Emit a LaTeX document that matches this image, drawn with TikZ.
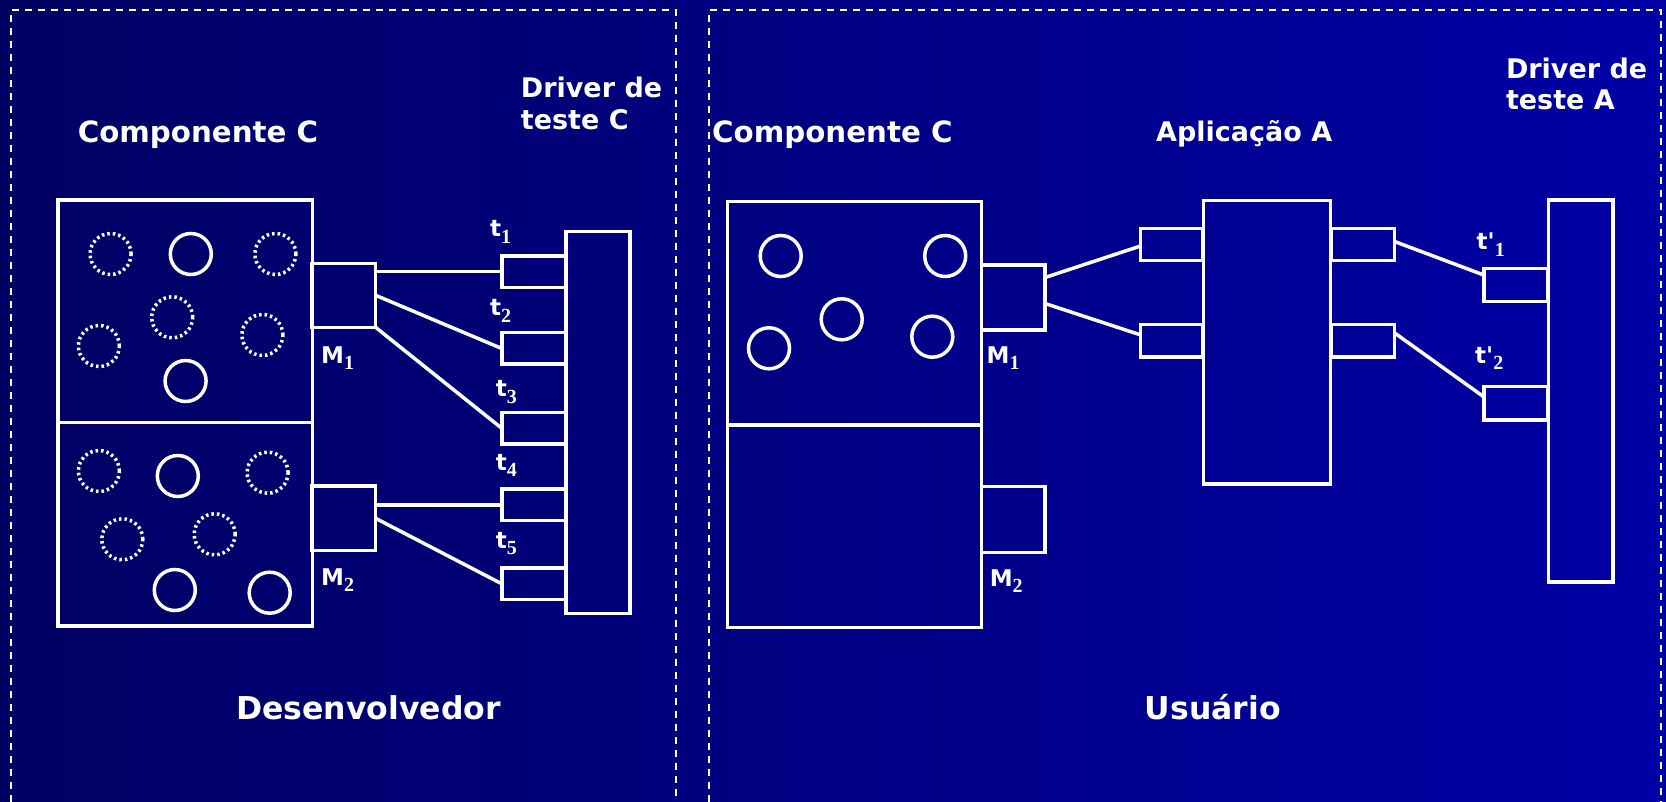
\documentclass[tikz,border=0pt]{standalone}
\usepackage{fontspec}
\setmainfont{DejaVu Sans}
\newfontfamily\subfont{Liberation Serif}
\newfontfamily\nomapfont{DejaVu Sans}
\usetikzlibrary{calc}
\definecolor{bgL}{RGB}{0,0,98}
\definecolor{bgR}{RGB}{0,0,165}
\newcommand\sbs[1]{\raisebox{-6.5pt}{\subfont\fontsize{20}{20}\selectfont #1}}
\newcommand\apos{{\nomapfont\bfseries '}}
\begin{document}
\begin{tikzpicture}[x=1pt,y=-1pt,
  box/.style={draw=white, line width=3.5pt, rectangle, inner sep=0pt, outer sep=0pt},
  frame/.style={draw=white, line width=2.2pt, dash pattern=on 7pt off 6pt},
  solidc/.style={draw=white, line width=3.5pt},
  dotc/.style={draw=white, line width=3.5pt, dash pattern=on 2.5pt off 3pt},
  conn/.style={draw=white, line width=3.5pt},
  ttl/.style={text=white, font=\fontsize{29.3}{33}\selectfont\bfseries, inner sep=0pt, anchor=base west},
  drv/.style={text=white, font=\fontsize{27}{32}\selectfont\bfseries, inner sep=0pt, anchor=base west},
  role/.style={text=white, font=\fontsize{31.5}{36}\selectfont\bfseries, inner sep=0pt, anchor=base west},
  tl/.style={text=white, font=\fontsize{23}{26}\selectfont\bfseries, inner sep=0pt, anchor=base west}
]
\useasboundingbox (0,0) rectangle (1666,802);
\shade[left color=bgL, right color=bgR] (0,0) rectangle (1666,802);

% frames
\draw[frame] (10.8,802) -- (10.8,10) -- (676,10) -- (676,802);
\draw[frame] (709,802) -- (709,10) -- (1661,10) -- (1661,802);

% ---------------- left panel ----------------
\node[box, minimum width=254.5pt, minimum height=425.7pt] (compL) at (185,412.9) {};
\draw[conn] (compL.west |- 0,422.3) coordinate (dL1) -- (compL.east |- 0,422.3) coordinate (dL2);
\node[box, minimum width=63.5pt, minimum height=64pt] (m1L) at (343.8,295.3) {};
\node[box, minimum width=63.5pt, minimum height=64.7pt] (m2L) at (343.8,518.3) {};
\node[box, minimum width=63.7pt, minimum height=381.6pt] (drvC) at (597.9,422.5) {};
\foreach \n/\y in {t1/271.7, t2/348.5, t3/428.3, t4/504.9, t5/583.8}
  \node[box, minimum width=64.3pt, minimum height=31.5pt] (\n) at (533.9,\y) {};

\draw[conn] (m1L.east |- t1.west) -- (t1.west);
\draw[conn] (m1L.east) -- (t2.west);
\draw[conn] (m1L.south east) -- (t3.west);
\draw[conn] (m2L.east |- t4.west) -- (t4.west);
\draw[conn] (m2L.east) -- (t5.west);

% circles left
\foreach \x/\y in {110.6/254, 275.4/254, 172.2/317.3, 98.9/346, 262.4/335,
                   98.9/471, 267.6/472.7, 122.3/539.3, 214.7/534.3}
  \draw[dotc] (\x,\y) circle[radius=20.5pt];
\foreach \x/\y in {190.8/254, 185.6/381, 177.8/476, 174.8/590, 269.7/592.7}
  \draw[solidc] (\x,\y) circle[radius=20.5pt];

% labels left
\node[ttl] (lcompL) at (77.6,143) {Componente C};
\node[drv] (ldrvC1) at (520.7,97.3) {Driver de};
\node[drv] (ldrvC2) at (520.7,129.3) {teste C};
\node[tl] (lt1) at (490,236.7) {t\sbs{1}};
\node[tl] (lt2) at (490,316) {t\sbs{2}};
\node[tl] (lt3) at (495.7,396.7) {t\sbs{3}};
\node[tl] (lt4) at (495.7,470) {t\sbs{4}};
\node[tl] (lt5) at (495.7,548.3) {t\sbs{5}};
\node[tl] (lm1L) at (321,363.3) {M\sbs{1}};
\node[tl] (lm2L) at (321,585) {M\sbs{2}};
\node[role] (ldev) at (236,719) {Desenvolvedor};

% ---------------- right panel ----------------
\node[box, minimum width=253.9pt, minimum height=425.6pt] (compR) at (854.65,414.5) {};
\draw[conn] (compR.west |- 0,425) coordinate (dR1) -- (compR.east |- 0,425) coordinate (dR2);
\node[box, minimum width=63.4pt, minimum height=65pt] (m1R) at (1013.3,297.5) {};
\node[box, minimum width=63.4pt, minimum height=65.6pt] (m2R) at (1013.3,519.5) {};
\node[box, minimum width=61.7pt, minimum height=32.4pt] (al1) at (1171.4,244.5) {};
\node[box, minimum width=61.7pt, minimum height=32.4pt] (al2) at (1171.4,340.9) {};
\node[box, minimum width=127pt, minimum height=283.3pt] (app) at (1266.9,342.4) {};
\node[box, minimum width=63pt, minimum height=32.4pt] (ar1) at (1363,244.5) {};
\node[box, minimum width=63pt, minimum height=32.4pt] (ar2) at (1363,340.9) {};
\node[box, minimum width=63.5pt, minimum height=33.4pt] (tp1) at (1515.5,285) {};
\node[box, minimum width=63.5pt, minimum height=33.4pt] (tp2) at (1515.5,403.4) {};
\node[box, minimum width=64.6pt, minimum height=381.7pt] (drvA) at (1580.7,390.9) {};

\draw[conn] ([yshift=20pt]m1R.east) -- ([yshift=-1.5pt]al1.west);
\draw[conn] ([yshift=-6pt]m1R.east) -- ([yshift=6pt]al2.west);
\draw[conn] ([yshift=3pt]ar1.east) -- ([yshift=10pt]tp1.west);
\draw[conn] ([yshift=8pt]ar2.east) -- ([yshift=6.6pt]tp2.west);

\foreach \x/\y in {780.7/256, 945.2/256, 841.7/319.3, 769/348.3, 932.3/336.7}
  \draw[solidc] (\x,\y) circle[radius=20.5pt];

\node[ttl] (lcompR) at (712,143) {Componente C};
\node[drv] (lapp) at (1156,142) {Aplicação A};
\node[drv] (ldrvA1) at (1505.8,78.3) {Driver de};
\node[drv] (ldrvA2) at (1505.8,110) {teste A};
\node[tl] (ltp1) at (1476.5,250) {t\apos\sbs{1}};
\node[tl] (ltp2) at (1475,363.3) {t\apos\sbs{2}};
\node[tl] (lm1R) at (986.5,363.3) {M\sbs{1}};
\node[tl] (lm2R) at (989.6,586) {M\sbs{2}};
\node[role] (lusr) at (1144.5,719) {Usuário};
\end{tikzpicture}
\end{document}
